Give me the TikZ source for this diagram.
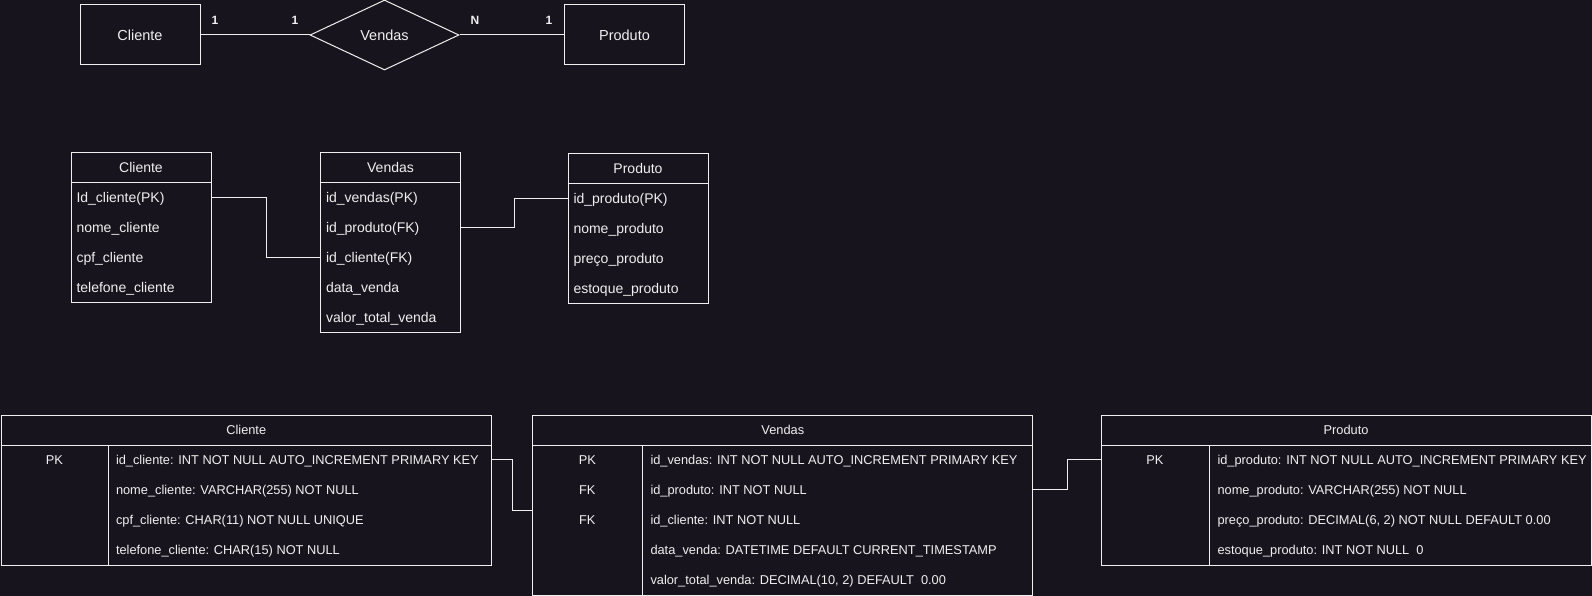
\documentclass[tikz,border=0pt]{standalone}
\usepackage{fontspec}
\setmainfont{Liberation Sans}
\usetikzlibrary{shapes.geometric}
\definecolor{bgc}{RGB}{24,20,29}
\definecolor{fgc}{RGB}{240,240,240}
\tikzset{
  ent/.style={draw=fgc, rectangle, minimum width=120pt, minimum height=60pt, inner sep=0pt, text=fgc, font=\fontsize{14.5}{17}\selectfont},
  rel/.style={draw=fgc, diamond, minimum width=149pt, minimum height=70pt, inner sep=0pt, text=fgc, font=\fontsize{14.5}{17}\selectfont},
  card/.style={text=fgc, inner sep=0pt, font=\fontsize{12}{14}\selectfont\bfseries},
  conn/.style={draw=fgc, line width=1pt},
  mhead/.style={draw=fgc, rectangle, anchor=north west, minimum width=140pt, minimum height=30pt, inner sep=0pt, text=fgc, font=\fontsize{14}{16}\selectfont},
  mbody/.style={draw=fgc, rectangle, anchor=north west, minimum width=140pt, minimum height=#1, inner sep=0pt},
  mrow/.style={anchor=west, inner sep=0pt, text=fgc, text height=10pt, text depth=0pt, font=\fontsize{14}{16}\selectfont},
  bhead/.style={draw=fgc, rectangle, anchor=north west, minimum width=#1, minimum height=30pt, inner sep=0pt, text=fgc, font=\fontsize{12.8}{15}\selectfont},
  bcol/.style n args={2}{draw=fgc, rectangle, anchor=north west, minimum width=#1, minimum height=#2, inner sep=0pt},
  brow/.style={anchor=west, inner sep=0pt, text=fgc, text height=9.2pt, text depth=0pt, font=\fontsize{12.8}{15}\selectfont},
  bkey/.style={inner sep=0pt, text=fgc, text height=9.2pt, text depth=0pt, font=\fontsize{12.8}{15}\selectfont},
}
\begin{document}
\begin{tikzpicture}[x=1pt,y=-1pt,line width=1pt]
\useasboundingbox (0,0) rectangle (1592,596);
\fill[bgc] (0,0) rectangle (1592,596);

% ---------- top ER ----------
\node[ent] (cli) at (140,35) {Cliente};
\node[rel] (ven) at (384.5,35) {Vendas};
\node[ent] (pro) at (624.5,35) {Produto};
\draw[conn] (cli) -- (ven);
\draw[conn] (ven) -- (pro);
\node[card] (k1) at (215,20) {1};
\node[card] (k2) at (295,20) {1};
\node[card] (k3) at (475,20) {N};
\node[card] (k4) at (549,20) {1};

% ---------- middle tables ----------
\node[mhead] (mcT) at (70.5,152.3) {Cliente};
\node[mbody=120pt] (mcB) at (70.5,182.3) {};
\node[mrow] (mc1) at (76,197.3) {Id\_cliente(PK)};
\node[mrow] (mc2) at (76,227.3) {nome\_cliente};
\node[mrow] (mc3) at (76,257.3) {cpf\_cliente};
\node[mrow] (mc4) at (76,287.3) {telefone\_cliente};

\node[mhead] (mvT) at (320,152.3) {Vendas};
\node[mbody=150pt] (mvB) at (320,182.3) {};
\node[mrow] (mv1) at (325.5,197.3) {id\_vendas(PK)};
\node[mrow] (mv2) at (325.5,227.3) {id\_produto(FK)};
\node[mrow] (mv3) at (325.5,257.3) {id\_cliente(FK)};
\node[mrow] (mv4) at (325.5,287.3) {data\_venda};
\node[mrow] (mv5) at (325.5,317.3) {valor\_total\_venda};

\node[mhead] (mpT) at (567.5,153.3) {Produto};
\node[mbody=120pt] (mpB) at (567.5,183.3) {};
\node[mrow] (mp1) at (573,198.3) {id\_produto(PK)};
\node[mrow] (mp2) at (573,228.3) {nome\_produto};
\node[mrow] (mp3) at (573,258.3) {preço\_produto};
\node[mrow] (mp4) at (573,288.3) {estoque\_produto};

\draw[conn] (mcB.east |- mc1.west) -- ++(55,0) |- (mvB.west |- mv3.west);
\draw[conn] (mvB.east |- mv2.west) -- ++(53.5,0) |- (mpB.west |- mp1.west);

% ---------- bottom tables ----------
\node[bhead=489.5pt] (bcT) at (1,414.7) {Cliente};
\node[bcol={106.8pt}{120pt}] (bcK) at (1,444.7) {};
\node[bcol={382.7pt}{120pt}] (bcV) at (107.8,444.7) {};
\node[bkey] (bck1) at (54.4,459.7) {PK};
\node[brow] (bc1) at (115.5,459.7) {id\_cliente: INT NOT NULL AUTO\_INCREMENT PRIMARY KEY};
\node[brow] (bc2) at (115.5,489.7) {nome\_cliente: VARCHAR(255) NOT NULL};
\node[brow] (bc3) at (115.5,519.7) {cpf\_cliente: CHAR(11) NOT NULL UNIQUE};
\node[brow] (bc4) at (115.5,549.7) {telefone\_cliente: CHAR(15) NOT NULL};

\node[bhead=500pt] (bvT) at (532.3,414.7) {Vendas};
\node[bcol={110pt}{150pt}] (bvK) at (532.3,444.7) {};
\node[bcol={390pt}{150pt}] (bvV) at (642.3,444.7) {};
\node[bkey] (bvk1) at (587.3,459.7) {PK};
\node[bkey] (bvk2) at (587.3,489.7) {FK};
\node[bkey] (bvk3) at (587.3,519.7) {FK};
\node[brow] (bv1) at (650,459.7) {id\_vendas: INT NOT NULL AUTO\_INCREMENT PRIMARY KEY};
\node[brow] (bv2) at (650,489.7) {id\_produto: INT NOT NULL};
\node[brow] (bv3) at (650,519.7) {id\_cliente: INT NOT NULL};
\node[brow] (bv4) at (650,549.7) {data\_venda: DATETIME DEFAULT CURRENT\_TIMESTAMP};
\node[brow] (bv5) at (650,579.7) {valor\_total\_venda: DECIMAL(10, 2) DEFAULT\ \ 0.00};

\node[bhead=490pt] (bpT) at (1100.5,414.7) {Produto};
\node[bcol={108.8pt}{120pt}] (bpK) at (1100.5,444.7) {};
\node[bcol={381.2pt}{120pt}] (bpV) at (1209.3,444.7) {};
\node[bkey] (bpk1) at (1154.9,459.7) {PK};
\node[brow] (bp1) at (1217,459.7) {id\_produto: INT NOT NULL AUTO\_INCREMENT PRIMARY KEY};
\node[brow] (bp2) at (1217,489.7) {nome\_produto: VARCHAR(255) NOT NULL};
\node[brow] (bp3) at (1217,519.7) {preço\_produto: DECIMAL(6, 2) NOT NULL DEFAULT 0.00};
\node[brow] (bp4) at (1217,549.7) {estoque\_produto: INT NOT NULL\ \ 0};

\coordinate (bvin) at (532.3,510.3);
\draw[conn] (bcV.east |- bc1.west) -- ++(21.2,0) |- (bvin);
\draw[conn] (bvV.east |- bv2.west) -- ++(34,0) |- (bpK.west |- bp1.west);
\end{tikzpicture}
\end{document}
